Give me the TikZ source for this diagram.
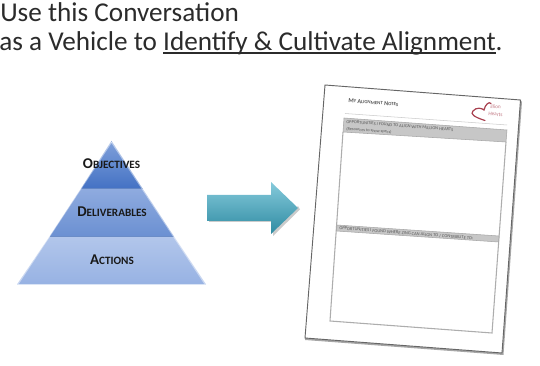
\documentclass[tikz,border=0pt]{standalone}
\usepackage{fontspec}
\setmainfont{Carlito}
\usetikzlibrary{shadows,calc}
\definecolor{titleink}{HTML}{2B2B2B}
\definecolor{maroon}{HTML}{A8404F}
\definecolor{pa}{HTML}{7FA0DA}
\definecolor{pb}{HTML}{4472C4}
\definecolor{pc}{HTML}{8FABDF}
\definecolor{pd}{HTML}{6B90D2}
\definecolor{pe}{HTML}{B2C6EB}
\definecolor{pf}{HTML}{97B2E3}
\definecolor{pline}{HTML}{4A72B8}
\definecolor{aa}{HTML}{85CADB}
\definecolor{ab}{HTML}{2F8BA2}
\tikzset{
  pyrlabel/.style={font=\bfseries, text=black!90, inner sep=0pt, anchor=base},
  papertext/.style={rotate=-4.4, inner sep=0pt, anchor=base west, text=black!65},
  hdr/.style={fill=black!22, draw=black!35, line width=0.4pt},
  slice/.style={draw=none},
  edgelight/.style={line width=1pt, draw=white, opacity=0.45},
  gridline/.style={draw=black!32, line width=0.8pt}
}
\newcommand{\pyrtext}[2]{{\fontsize{11.2}{11.2}\selectfont #1}{\fontsize{8.4}{8.4}\selectfont #2}}
\newcommand{\sctext}[2]{{\fontsize{4.6}{5}\selectfont #1}{\fontsize{3.6}{5}\selectfont #2}}
\newsavebox{\ulbox}
\newcommand{\myul}[1]{\sbox{\ulbox}{#1}\rlap{\rule[-2.4pt]{\wd\ulbox}{0.9pt}}\usebox{\ulbox}}
\begin{document}
\begin{tikzpicture}[x=0.75pt,y=-0.75pt]
\useasboundingbox (0,0) rectangle (540,366);
\clip (0,0) rectangle (540,366);
% title
\node[inner sep=0pt, anchor=base west, text=titleink, font=\fontsize{20.4}{22}\selectfont] (t1) at (0,22) {Use this Conversation};
\node[inner sep=0pt, anchor=base west, text=titleink, font=\fontsize{20.4}{22}\selectfont] (t2) at (-1,50.5) {as a Vehicle to \myul{Identify \& Cultivate Alignment}.};
% pyramid
\shade[slice, top color=pa, bottom color=pb] (111.5,141) -- (142.5,188.5) -- (81,188.5) -- cycle;
\shade[slice, top color=pc, bottom color=pd] (81,188.5) -- (142.5,188.5) -- (174,236.5) -- (49.5,236.5) -- cycle;
\shade[slice, top color=pe, bottom color=pf] (49.5,236.5) -- (174,236.5) -- (206,284.5) -- (17,284.5) -- cycle;
\draw[line width=0.6pt, draw=pline, opacity=0.7] (81,188.5) -- (142.5,188.5);
\draw[line width=0.6pt, draw=pline, opacity=0.7] (49.5,236.5) -- (174,236.5);
\draw[edgelight] (111.5,142) -- (205,284);
\draw[edgelight] (111.5,142) -- (18,284);
\node[pyrlabel] (obj) at (111.5,169) {\pyrtext{O}{BJECTIVES}};
\node[pyrlabel] (del) at (112,217) {\pyrtext{D}{ELIVERABLES}};
\node[pyrlabel] (act) at (112,265) {\pyrtext{A}{CTIONS}};
% arrow shadow and arrow
\fill[black!45, opacity=0.45] (209,222) -- (273,222) -- (273,236) -- (300,209.5) -- (298,206) -- (272,233) -- (272,221) -- (209,220) -- cycle;
\shade[top color=aa, bottom color=ab, draw=none] (207,195) -- (271,195) -- (271,182) -- (298,208) -- (271,234) -- (271,221) -- (207,221) -- cycle;
% paper
\fill[black!35] (305,338) -- (502,353) -- (520.5,100) -- (522,102) -- (503.5,355) -- (305,340) -- cycle;
\draw[fill=white, draw=black!60, line width=0.7pt] (325,85) -- (520.5,100) -- (502,353) -- (305,338) -- cycle;
% header text and rule
\node[papertext, font=\bfseries] (ptitle) at (348,102.5) {\sctext{M}{Y}\hspace{1pt}\sctext{A}{LIGNMENT}\hspace{1pt}\sctext{N}{OTES}};
\draw[draw=black!20, line width=0.4pt] (345,113.5) -- (507,125);
% heart logo
\draw[maroon, line width=0.9pt, line cap=round] (485,120.5) .. controls (474,117) and (470,114) .. (473,111) .. controls (476,107) and (482,108) .. (484,110) .. controls (485,105) and (489,101) .. (491,103.5);
\node[papertext, font=\fontsize{4}{4}\selectfont, text=maroon!70] (plogoa) at (490,108) {illion};
\node[papertext, font=\fontsize{4}{4}\selectfont, text=maroon!70] (plogob) at (488,115.5) {Hearts};
% upper and lower boxes
\draw[gridline] (343,132) -- (330,321) -- (492,333) -- (506,142);
\fill[hdr] (344,118) -- (507,130) -- (506,142) -- (343,132) -- cycle;
\fill[hdr] (337,225) -- (499,236) -- (498.5,242) -- (336.5,231) -- cycle;
\node[papertext, font=\fontsize{3.35}{4}\selectfont] (ptxa) at (346,123) {OPPORTUNITIES I FOUND TO ALIGN WITH MILLION HEARTS};
\node[papertext, font=\fontsize{3.2}{4}\selectfont] (ptxb) at (346,130) {(Resources to show specs)};
\node[papertext, font=\fontsize{3.4}{4}\selectfont] (ptxc) at (339,229.5) {OPPORTUNITIES I FOUND WHERE ZING CAN ALIGN TO / CONTRIBUTE TO:};
\end{tikzpicture}
\end{document}
